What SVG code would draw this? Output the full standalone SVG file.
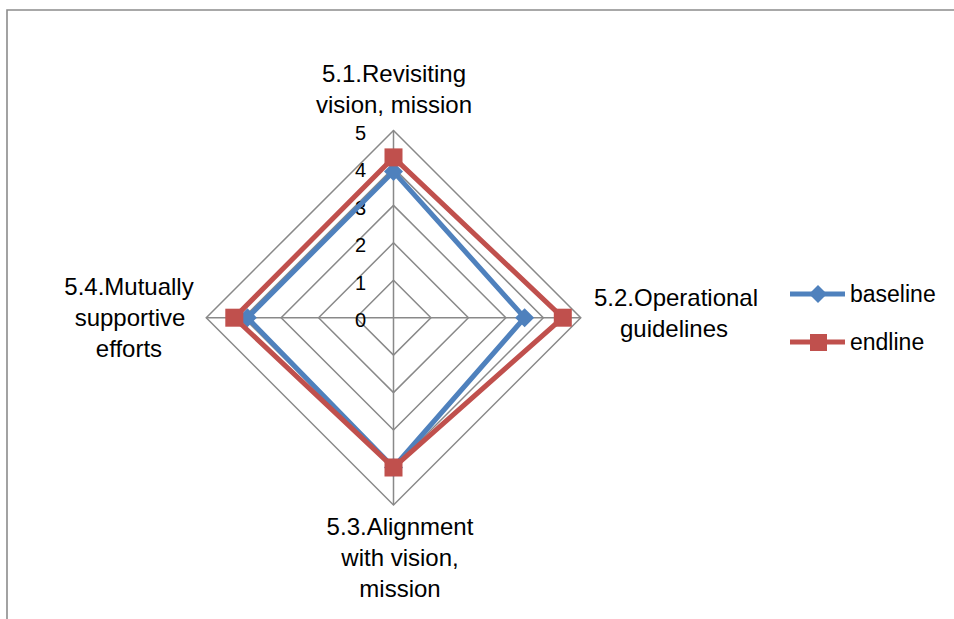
<svg xmlns="http://www.w3.org/2000/svg" width="954" height="619" viewBox="0 0 954 619">
<style>
text{font-family:"Liberation Sans",Arial,sans-serif;fill:#000}
.lbl{font-size:24px;text-anchor:middle}
.ax{font-size:20px;text-anchor:end}
.leg{font-size:23px}
.grid{fill:none;stroke:#898989;stroke-width:1.5}
.base{fill:none;stroke:#4F81BD;stroke-width:5;stroke-linejoin:miter}
.end{fill:none;stroke:#C0504D;stroke-width:5;stroke-linejoin:miter}
.bm{fill:#4F81BD}
.em{fill:#C0504D}
</style>
<defs>
<path id="dia" d="M0,-9.5 L9.5,0 L0,9.5 L-9.5,0 Z"/>
<rect id="sq" x="-9" y="-9" width="18" height="18"/>
</defs>
<rect x="0" y="0" width="954" height="619" fill="#fff"/>
<path d="M7,619 V10 H954" fill="none" stroke="#8c8c8c" stroke-width="1.6"/>
<g id="grid" transform="translate(393.5,317.7)">
<path class="grid" d="M0,-37.45 L37.45,0 L0,37.45 L-37.45,0 Z"/>
<path class="grid" d="M0,-74.9 L74.9,0 L0,74.9 L-74.9,0 Z"/>
<path class="grid" d="M0,-112.35 L112.35,0 L0,112.35 L-112.35,0 Z"/>
<path class="grid" d="M0,-149.8 L149.8,0 L0,149.8 L-149.8,0 Z"/>
<path class="grid" d="M0,-187.25 L187.25,0 L0,187.25 L-187.25,0 Z"/>
<path class="grid" d="M0,-187.25 V187.25 M-187.25,0 H187.25"/>
</g>
<g id="axis-labels">
<text class="ax" x="366" y="327.2">0</text>
<text class="ax" x="366" y="289.7">1</text>
<text class="ax" x="366" y="252.3">2</text>
<text class="ax" x="366" y="214.8">3</text>
<text class="ax" x="366" y="177.4">4</text>
<text class="ax" x="366" y="140">5</text>
</g>
<g id="connectors">
<g id="baseline-series">
<path class="base" d="M393.5,171.6 L524.6,317.7 L393.5,467.5 L247.4,317.7 Z"/>
<use href="#dia" class="bm" x="393.5" y="171.6"/>
<use href="#dia" class="bm" x="524.6" y="317.7"/>
<use href="#dia" class="bm" x="393.5" y="467.5"/>
<use href="#dia" class="bm" x="247.4" y="317.7"/>
</g>
<g id="endline-series">
<path class="end" d="M393.5,157.4 L562.8,317.7 L393.5,467.5 L234.3,317.7 Z"/>
<use href="#sq" class="em" x="393.5" y="157.4"/>
<use href="#sq" class="em" x="562.8" y="317.7"/>
<use href="#sq" class="em" x="393.5" y="467.5"/>
<use href="#sq" class="em" x="234.3" y="317.7"/>
</g>
</g>
<g id="node-5-1">
<text class="lbl" x="394" y="82">5.1.Revisiting</text>
<text class="lbl" x="394" y="113">vision, mission</text>
</g>
<g id="node-5-2">
<text class="lbl" x="676" y="306">5.2.Operational</text>
<text class="lbl" x="674" y="337">guidelines</text>
</g>
<g id="node-5-3">
<text class="lbl" x="400" y="535">5.3.Alignment</text>
<text class="lbl" x="400" y="566">with vision,</text>
<text class="lbl" x="400" y="597">mission</text>
</g>
<g id="node-5-4">
<text class="lbl" x="129" y="295">5.4.Mutually</text>
<text class="lbl" x="130" y="326">supportive</text>
<text class="lbl" x="129" y="357">efforts</text>
</g>
<g id="legend">
<line x1="790" y1="294" x2="845" y2="294" stroke="#4F81BD" stroke-width="5"/>
<path d="M818,285 L827,294 L818,303 L809,294 Z" fill="#4F81BD"/>
<text class="leg" x="850" y="302">baseline</text>
<line x1="790" y1="342" x2="845" y2="342" stroke="#C0504D" stroke-width="5"/>
<rect x="810" y="334" width="17" height="17" fill="#C0504D"/>
<text class="leg" x="850" y="350">endline</text>
</g>
</svg>
